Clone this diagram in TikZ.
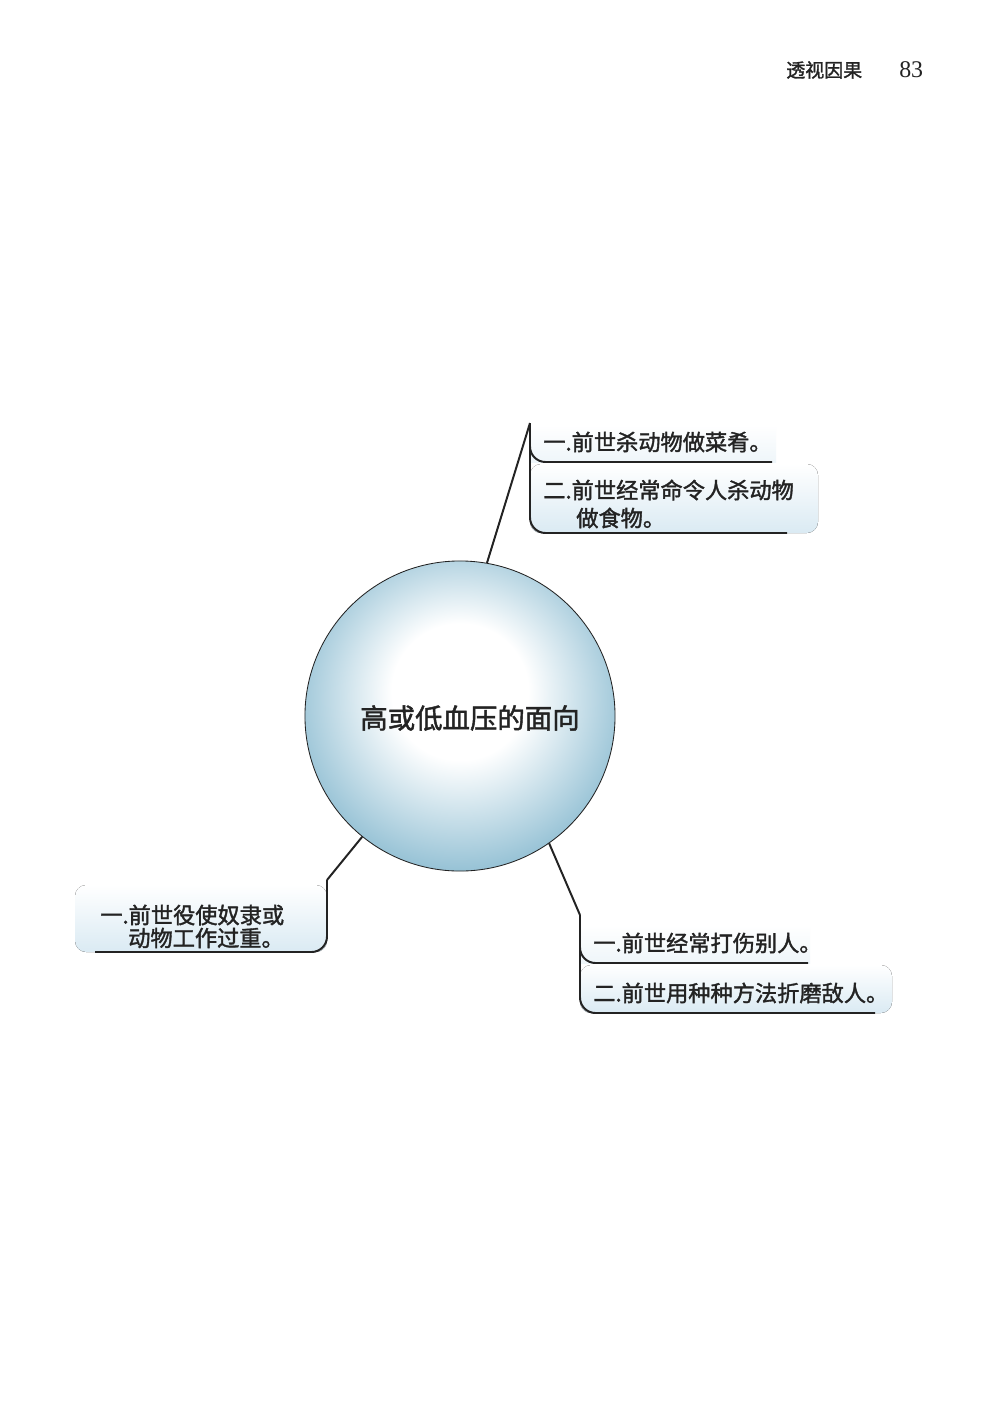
\documentclass[tikz,border=0pt]{standalone}
\usepackage{fontspec}
\setmainfont{Liberation Serif}
\newfontfamily\cjk{Noto Sans CJK SC}[FakeBold=1.6]

% Define colors
\definecolor{bubbleblue}{RGB}{152,195,214}
\definecolor{panelblue}{RGB}{218,234,243}
\definecolor{inkgray}{RGB}{35,35,35}

\pgfdeclareradialshading{bubble}{\pgfpoint{0bp}{5bp}}{%
  color(0bp)=(white); color(11bp)=(white);
  color(27bp)=(bubbleblue); color(50bp)=(bubbleblue)}

\begin{document}
\begin{tikzpicture}[x=0.025cm,y=-0.025cm,
  item/.style={anchor=west, inner sep=0pt, text=inkgray,
    font=\cjk\fontsize{15.8}{19}\selectfont},
  wire/.style={draw=inkgray, line width=1.4pt},
  panel/.style={top color=white, bottom color=panelblue}]

% Set background
\useasboundingbox (0,0) rectangle (1000,1415);
\fill[white] (0,0) rectangle (1000,1415);

% Page header
\node[anchor=west, inner sep=0pt, text=inkgray, font=\cjk\fontsize{13.5}{16}\selectfont] (title) at (786,70) {透视因果};
\node[anchor=west, inner sep=0pt, text=inkgray, font=\fontsize{17}{20}\selectfont] (page) at (899,70) {83};

% Central circle
\node[circle, draw=inkgray, line width=0.6pt, shading=bubble, minimum size=7.75cm, inner sep=0pt] (hub) at (460,716) {};
\node[inner sep=0pt, text=inkgray, font=\cjk\fontsize{19.5}{22}\selectfont] (topic) at (470,718) {高或低血压的面向};

% Panels behind the texts
\fill[top color=white, bottom color=panelblue!45] (530,425) rectangle (776,462);
\fill[panel, rounded corners=8pt] (530,464) rectangle (818,533);
\fill[panel, rounded corners=8pt] (75,885) rectangle (327,952);
\fill[top color=white, bottom color=panelblue!45] (580,925) rectangle (810,963);
\fill[panel, rounded corners=8pt] (580,965) rectangle (892,1013);

% Bracket corners
\coordinate (tr) at (530,423);
\coordinate (bl) at (327,880);
\coordinate (br) at (580,915);

% Connectors
\draw[wire] (hub.80) -- (tr);
\draw[wire, rounded corners=11pt] (tr) |- (772,462);
\draw[wire, rounded corners=11pt] (tr) |- (787,533);

\draw[wire] (hub.231) -- (bl);
\draw[wire, rounded corners=11pt] (bl) |- (95,952);

\draw[wire] (hub.305) -- (br);
\draw[wire, rounded corners=11pt] (br) |- (808,963);
\draw[wire, rounded corners=11pt] (br) |- (875,1013);

% Texts
\node[item] (a1) at (543,442) {一.前世杀动物做菜肴。};
\node[item] (a2) at (543,490) {二.前世经常命令人杀动物};
\node[item] (a3) at (576,518) {做食物。};

\node[item] (b1) at (100,915) {一.前世役使奴隶或};
\node[item] (b2) at (128,938) {动物工作过重。};

\node[item] (c1) at (593,943) {一.前世经常打伤别人。};
\node[item] (c2) at (593,993) {二.前世用种种方法折磨敌人。};

\end{tikzpicture}
\end{document}
